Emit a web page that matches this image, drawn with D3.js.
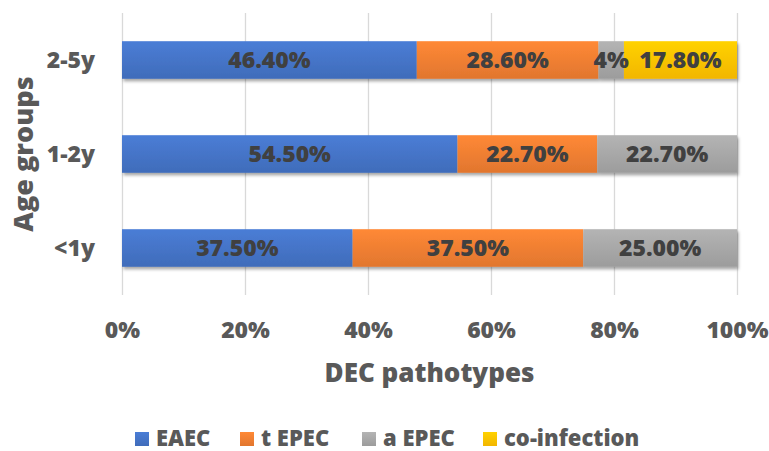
<!DOCTYPE html>
<html>
<head>
<meta charset="utf-8">
<script src="https://cdn.jsdelivr.net/npm/d3@7"></script>
<style>
  html, body { margin: 0; padding: 0; background: #fff; }
  svg { display: block; font-family: "Open Sans", Lato, sans-serif; font-weight: 800; }
</style>
</head>
<body>
<svg id="chart" width="769" height="451"></svg>
<script>
// Age groups (top to bottom) and the share of each DEC pathotype (%)
const ageGroups = ["2-5y", "1-2y", "<1y"];
const pathotypes = ["EAEC", "t EPEC", "a EPEC", "co-infection"];
const eaec        = [46.4, 54.5, 37.5];
const tEpec       = [28.6, 22.7, 37.5];
const aEpec       = [4.0, 22.7, 25.0];
const coInfection = [17.8, 0, 0];
const labelText = [
  ["46.40%", "28.60%", "4%", "17.80%"],
  ["54.50%", "22.70%", "22.70%", ""],
  ["37.50%", "37.50%", "25.00%", ""]
];
const xTicks = [0, 0.2, 0.4, 0.6, 0.8, 1.0];
const colors = ["#4472C4", "#ED7D31", "#A5A5A5", "#FFC000"];

const rows = ageGroups.map((g, i) => ({
  group: g,
  "EAEC": eaec[i],
  "t EPEC": tEpec[i],
  "a EPEC": aEpec[i],
  "co-infection": coInfection[i]
}));

const svg = d3.select("#chart");
const margin = { left: 122, right: 32, top: 13, bottom: 156 };
const W = 769, H = 451;
const FONT = "'Open Sans', Lato, sans-serif";

const x = d3.scaleLinear().domain([0, 1]).range([margin.left, W - margin.right]);
const y = d3.scaleBand().domain(ageGroups)
  .range([margin.top, H - margin.bottom])
  .paddingInner(0.6).paddingOuter(0.3);

// gradients and shadow for bars
const defs = svg.append("defs");
colors.forEach((c, i) => {
  const g = defs.append("linearGradient").attr("id", "grad" + i)
    .attr("x1", 0).attr("y1", 0).attr("x2", 0).attr("y2", 1);
  g.append("stop").attr("offset", "0%").attr("stop-color", d3.color(c).brighter(0.25));
  g.append("stop").attr("offset", "100%").attr("stop-color", d3.color(c).darker(0.15));
});
const shadow = defs.append("filter").attr("id", "shadow")
  .attr("x", "-5%").attr("y", "-20%").attr("width", "110%").attr("height", "160%");
shadow.append("feDropShadow").attr("dx", 1.5).attr("dy", 2.5)
  .attr("stdDeviation", 1.6).attr("flood-color", "#000").attr("flood-opacity", 0.35);

// vertical gridlines and percentage ticks
const xAxis = d3.axisBottom(x).tickValues(xTicks)
  .tickSize(-(H - margin.bottom - margin.top))
  .tickFormat(d3.format(".0%"));
const gx = svg.append("g")
  .attr("transform", `translate(0,${H - margin.bottom})`)
  .call(xAxis);
gx.select(".domain").remove();
gx.selectAll(".tick line").attr("stroke", "#d9d9d9").attr("stroke-width", 1.3);
gx.selectAll(".tick text")
  .attr("y", 43).attr("dy", 0)
  .attr("fill", "#595959").style("font-size", "23px")
  .style("font-family", FONT).style("font-weight", 800);

// stacked, normalised bars
const stack = d3.stack().keys(pathotypes).offset(d3.stackOffsetExpand);
const series = stack(rows);

const layers = svg.append("g").attr("filter", "url(#shadow)")
  .selectAll("g").data(series).join("g")
  .attr("fill", (d, i) => `url(#grad${i})`);
layers.selectAll("rect").data(d => d).join("rect")
  .attr("x", d => x(d[0]))
  .attr("y", d => y(d.data.group))
  .attr("width", d => Math.max(0, x(d[1]) - x(d[0])))
  .attr("height", y.bandwidth());

// value labels
const labels = svg.append("g");
series.forEach((s, si) => {
  s.forEach((d, ri) => {
    const txt = labelText[ri][si];
    if (!txt || d[1] - d[0] <= 0) return;
    labels.append("text")
      .attr("x", (x(d[0]) + x(d[1])) / 2)
      .attr("y", y(d.data.group) + y.bandwidth() / 2 + 8)
      .attr("text-anchor", "middle")
      .attr("fill", "#404040")
      .style("font-size", "23px")
      .text(txt);
  });
});

// category axis
const yAxis = d3.axisLeft(y).tickSize(0);
const gy = svg.append("g").attr("transform", `translate(${margin.left},0)`).call(yAxis);
gy.select(".domain").remove();
gy.selectAll(".tick text")
  .attr("x", -27).attr("dy", "0.35em")
  .attr("fill", "#595959").style("font-size", "23px")
  .style("font-family", FONT).style("font-weight", 800);

// axis titles
svg.append("text")
  .attr("x", (x(0) + x(1)) / 2).attr("y", 382)
  .attr("text-anchor", "middle").attr("fill", "#595959")
  .style("font-size", "26px").text("DEC pathotypes");
svg.append("text")
  .attr("transform", `translate(33,${(y.range()[0] + y.range()[1]) / 2}) rotate(-90)`)
  .attr("text-anchor", "middle").attr("fill", "#595959")
  .style("font-size", "27px").text("Age groups");

// legend
const legendX = [135, 240, 362, 483];
const legend = svg.append("g");
pathotypes.forEach((p, i) => {
  const g = legend.append("g").attr("transform", `translate(${legendX[i]},0)`);
  g.append("rect").attr("x", 0).attr("y", 432).attr("width", 14).attr("height", 14)
    .attr("fill", `url(#grad${i})`);
  g.append("text").attr("x", 21).attr("y", 446)
    .attr("fill", "#595959").style("font-size", "22px").text(p);
});
</script>
</body>
</html>
